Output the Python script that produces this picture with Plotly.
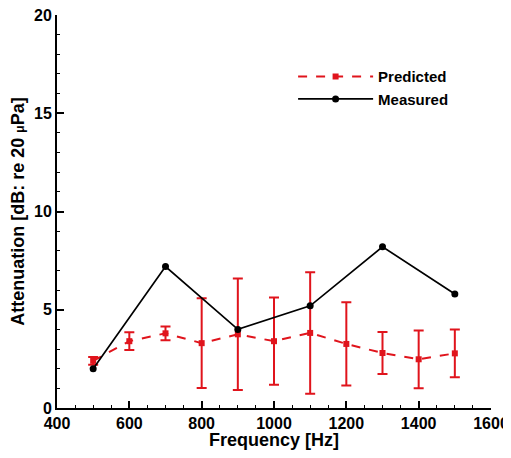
import plotly.graph_objects as go

freq = [500, 600, 700, 800, 900, 1000, 1100, 1200, 1300, 1400, 1500]
predicted = [2.4, 3.4, 3.8, 3.3, 3.75, 3.4, 3.82, 3.26, 2.8, 2.48, 2.78]
pred_err = [0.2, 0.45, 0.35, 2.28, 2.84, 2.22, 3.09, 2.12, 1.07, 1.47, 1.22]

meas_freq = [500, 700, 900, 1100, 1300, 1500]
measured = [2.0, 7.2, 4.0, 5.2, 8.2, 5.8]

RED = "#e0141c"
FONT = "Liberation Sans, Arial, sans-serif"

fig = go.Figure()
fig.add_trace(go.Scatter(
    x=freq, y=predicted, name="Predicted", mode="lines+markers",
    line=dict(color=RED, width=2, dash="dash"),
    marker=dict(symbol="square", size=6, color=RED),
    error_y=dict(type="data", array=pred_err, visible=True, color=RED, thickness=2, width=5),
))
fig.add_trace(go.Scatter(
    x=meas_freq, y=measured, name="Measured", mode="lines+markers",
    line=dict(color="black", width=1.7),
    marker=dict(symbol="circle", size=7, color="black"),
))

axis_common = dict(
    showline=True, linecolor="black", linewidth=2, mirror=False,
    showgrid=False, zeroline=False, automargin=False,
    ticks="inside", ticklen=7, tickwidth=2, tickcolor="black",
    ticklabeloverflow="allow",
    tickfont=dict(family=FONT, size=16, color="black", weight="bold"),
)

fig.update_layout(
    width=503, height=442,
    margin=dict(l=49, r=20, t=7, b=42),
    paper_bgcolor="white", plot_bgcolor="white",
    font=dict(family=FONT, color="black"),
    showlegend=True,
    legend=dict(
        x=0.544, y=0.885, xanchor="left", yanchor="top",
        bgcolor="rgba(0,0,0,0)", borderwidth=0,
        font=dict(family=FONT, size=15, color="black", weight="bold"),
        tracegroupgap=0, itemwidth=75,
    ),
    xaxis=dict(
        range=[400, 1600], tick0=400, dtick=200,
        minor=dict(dtick=50, ticks="inside", ticklen=3, tickwidth=1, tickcolor="black"),
        title=dict(text="Frequency [Hz]", font=dict(family=FONT, size=18, color="black", weight="bold"), standoff=9),
        **axis_common,
    ),
    yaxis=dict(
        range=[0, 20], tick0=0, dtick=5,
        minor=dict(dtick=1, ticks="inside", ticklen=3, tickwidth=1, tickcolor="black"),
        title=dict(text="Attenuation [dB: re 20 <span style='font-size:12px'>μ</span>Pa]",
                   font=dict(family=FONT, size=18, color="black", weight="bold"), standoff=8),
        **axis_common,
    ),
)

fig.write_html("out.html", post_script="document.body.style.overflow='hidden';")
